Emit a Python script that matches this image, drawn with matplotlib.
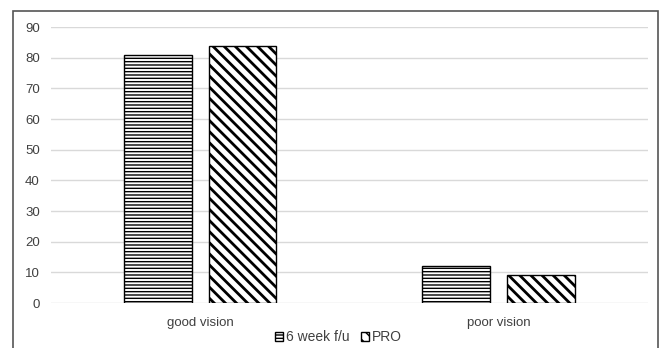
import matplotlib
matplotlib.use("Agg")
import matplotlib.pyplot as plt
import numpy as np
from matplotlib.patches import Rectangle

categories = ["good vision", "poor vision"]
week6 = [81, 12]
pro = [84, 9]
series_names = ["6 week f/u", "PRO"]

plt.rcParams['font.family'] = ['Liberation Sans', 'DejaVu Sans']

fig = plt.figure(figsize=(6.61, 3.48), dpi=100)
ax = fig.add_axes([0.077, 0.1293, 0.903, 0.7927])

# outer chart frame
fig.patches.append(Rectangle((13 / 661, -0.01), 645 / 661, 1 - 11 / 348 + 0.01,
                             transform=fig.transFigure, fill=False,
                             edgecolor="#555555", linewidth=1.2))

x = np.arange(len(categories))
w = 0.227
with plt.rc_context({'hatch.linewidth': 1.0}):
    b1 = ax.bar(x - 0.142, week6, w, facecolor="white", edgecolor="black",
                hatch="-----", linewidth=1.0, label=series_names[0], zorder=3)
with plt.rc_context({'hatch.linewidth': 2.0}):
    b2 = ax.bar(x + 0.142, pro, w, facecolor="white", edgecolor="black",
                hatch="\\\\\\", linewidth=1.0, label=series_names[1], zorder=3)

ax.set_xlim(-0.5, 1.5)
ax.set_ylim(0, 90)
ax.set_yticks(range(0, 91, 10))
ax.set_xticks(x)
ax.set_xticklabels(categories)
ax.grid(axis="y", color="#d9d9d9", linewidth=1.0, zorder=0)
for s in ax.spines.values():
    s.set_visible(False)
ax.tick_params(axis="both", length=0, labelsize=9.5, colors="#404040", pad=8)
ax.tick_params(axis="x", pad=10)

fig.legend(handles=[b1, b2], loc="lower center", bbox_to_anchor=(0.512, -0.025),
           ncol=2, frameon=False, fontsize=10, handlelength=0.6, handleheight=0.6,
           handletextpad=0.2, columnspacing=0.8, labelcolor="#404040")

fig.savefig("out.png", dpi=100)
